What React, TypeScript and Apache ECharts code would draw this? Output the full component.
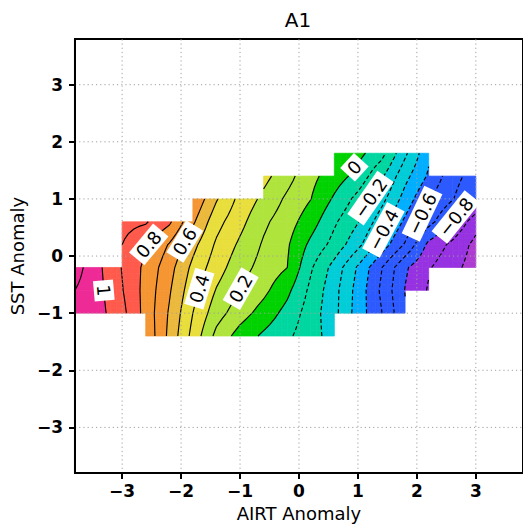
import React, { useEffect, useRef } from "react";
import * as echarts from "echarts";

// ---------------- data ----------------
const AIRT_NODES = [-3.8, -3.4, -3.0, -2.6, -2.2, -1.8, -1.4, -1.0, -0.6, -0.2, 0.2, 0.6, 1.0, 1.4, 1.8, 2.2, 2.6, 3.0];
const SST_NODES = [-1.4, -1.0, -0.6, -0.2, 0.2, 0.6, 1.0, 1.4, 1.8];

const N = null;
// field value at each AIRT node, one array per SST node row
const SST_M14 = [N, N, N, 0.78, 0.575, 0.367, 0.171, 0.058, -0.018, -0.081, -0.16, -0.245, N, N, N, N, N, N];
const SST_M10 = [1.08, 1.033, 0.93, 0.764, 0.589, 0.4, 0.242, 0.143, 0.059, -0.035, -0.149, -0.271, -0.445, -0.596, -0.789, N, N, N];
const SST_M06 = [1.1, 1.027, 0.906, 0.766, 0.612, 0.436, 0.293, 0.199, 0.125, 0.025, -0.124, -0.267, -0.438, -0.618, -0.804, -0.91, N, N];
const SST_M02 = [1.144, 1.019, 0.895, 0.775, 0.638, 0.475, 0.344, 0.24, 0.163, 0.101, -0.087, -0.238, -0.413, -0.595, -0.785, -0.89, -0.969, -1.045];
const SST_P02 = [N, N, 0.9, 0.815, 0.692, 0.531, 0.384, 0.282, 0.188, 0.113, -0.024, -0.135, -0.271, -0.442, -0.611, -0.827, -0.924, -1.03];
const SST_P06 = [N, N, 0.93, 0.91, 0.819, 0.617, 0.435, 0.33, 0.22, 0.144, 0.045, -0.085, -0.194, -0.356, -0.52, -0.665, -0.8, -0.958];
const SST_P10 = [N, N, N, N, N, 0.691, 0.509, 0.371, 0.275, 0.181, 0.102, -0.015, -0.132, -0.266, -0.44, -0.6, -0.693, -0.8];
const SST_P14 = [N, N, N, N, N, N, N, N, 0.332, 0.237, 0.128, 0.05, -0.034, -0.182, -0.369, -0.514, -0.66, -0.75];
const SST_P18 = [N, N, N, N, N, N, N, N, N, N, N, 0.06, 0.03, -0.064, -0.28, -0.48, N, N];
const FIELD_ROWS: (number | null)[][] = [SST_M14, SST_M10, SST_M06, SST_M02, SST_P02, SST_P06, SST_P10, SST_P14, SST_P18];

const LINE_LEVELS = [-1.0, -0.9, -0.8, -0.7, -0.6, -0.5, -0.4, -0.3, -0.2, -0.1, 0.0, 0.1, 0.2, 0.3, 0.4, 0.5, 0.6, 0.7, 0.8, 0.9, 1.0, 1.1];
const FILL_BOUNDS = [-1.0, -0.8, -0.5, -0.4, -0.2, 0.0, 0.1, 0.3, 0.5, 0.6, 0.8, 1.0];
const FILL_COLORS = ["#AF3CD2", "#9632E1", "#2D5AFF", "#00AFFF", "#00CDD7", "#00D7A0", "#00D200", "#AFE43C", "#E8DE3C", "#EBB93C", "#F59632", "#FF5A4B", "#EE2A96"];

const LABEL_LEVELS = [1.0, 0.8, 0.6, 0.4, 0.2, 0.0, -0.2, -0.4, -0.6, -0.8];
const LABEL_AIRT = [-3.28, -2.44, -1.93, -1.71, -1.0, 1.05, 1.24, 1.39, 2.2, 2.83];
const LABEL_SST = [-0.6, 0.165, 0.25, -0.565, -0.565, 1.49, 1.0, 0.48, 0.69, 0.565];

const TICKS = [-3, -2, -1, 0, 1, 2, 3];
const AXIS_MIN = -3.8;
const AXIS_MAX = 3.8;

// ---------------- field helpers ----------------
const SUB = 4;
const NX = AIRT_NODES.length;
const NY = SST_NODES.length;
type Pt = { x: number; y: number; v: number };

function nodeVal(i: number, j: number): number | null {
  const r = FIELD_ROWS[j];
  if (!r) return null;
  const v = r[i];
  return v == null ? null : v;
}
function cellOk(i: number, j: number): boolean {
  if (i < 0 || j < 0 || i >= NX - 1 || j >= NY - 1) return false;
  return nodeVal(i, j) != null && nodeVal(i + 1, j) != null && nodeVal(i, j + 1) != null && nodeVal(i + 1, j + 1) != null;
}

const RX = (NX - 1) * SUB + 1;
const RY = (NY - 1) * SUB + 1;
const RV: number[] = new Array(RX * RY).fill(NaN);
const RXC: number[] = [];
const RYC: number[] = [];
for (let ia = 0; ia < RX; ia++) {
  const i = Math.min(Math.floor(ia / SUB), NX - 2);
  const a = ia - i * SUB;
  RXC[ia] = AIRT_NODES[i] + ((AIRT_NODES[i + 1] - AIRT_NODES[i]) * a) / SUB;
}
for (let jb = 0; jb < RY; jb++) {
  const j = Math.min(Math.floor(jb / SUB), NY - 2);
  const b = jb - j * SUB;
  RYC[jb] = SST_NODES[j] + ((SST_NODES[j + 1] - SST_NODES[j]) * b) / SUB;
}
const CELLS: number[][] = [];
for (let j = 0; j < NY - 1; j++) {
  for (let i = 0; i < NX - 1; i++) {
    if (!cellOk(i, j)) continue;
    CELLS.push([(AIRT_NODES[i] + AIRT_NODES[i + 1]) / 2, (SST_NODES[j] + SST_NODES[j + 1]) / 2, i, j]);
    const v00 = nodeVal(i, j) as number, v10 = nodeVal(i + 1, j) as number;
    const v01 = nodeVal(i, j + 1) as number, v11 = nodeVal(i + 1, j + 1) as number;
    for (let b = 0; b <= SUB; b++) {
      for (let a = 0; a <= SUB; a++) {
        const u = a / SUB, w = b / SUB;
        RV[(j * SUB + b) * RX + i * SUB + a] = (1 - u) * (1 - w) * v00 + u * (1 - w) * v10 + (1 - u) * w * v01 + u * w * v11;
      }
    }
  }
}
const rcellOk = (ia: number, jb: number) => cellOk(Math.floor(ia / SUB), Math.floor(jb / SUB));
const rp = (ia: number, jb: number): Pt => ({ x: RXC[ia], y: RYC[jb], v: RV[jb * RX + ia] });

function evalField(x: number, y: number): [number, number, number] | null {
  let i = -1, j = -1;
  for (let k = 0; k < NX - 1; k++) if (x >= AIRT_NODES[k] && x <= AIRT_NODES[k + 1]) { i = k; break; }
  for (let k = 0; k < NY - 1; k++) if (y >= SST_NODES[k] && y <= SST_NODES[k + 1]) { j = k; break; }
  if (i < 0 || j < 0 || !cellOk(i, j)) return null;
  const dx = AIRT_NODES[i + 1] - AIRT_NODES[i], dy = SST_NODES[j + 1] - SST_NODES[j];
  const u = (x - AIRT_NODES[i]) / dx, w = (y - SST_NODES[j]) / dy;
  const v00 = nodeVal(i, j) as number, v10 = nodeVal(i + 1, j) as number;
  const v01 = nodeVal(i, j + 1) as number, v11 = nodeVal(i + 1, j + 1) as number;
  const v = (1 - u) * (1 - w) * v00 + u * (1 - w) * v10 + (1 - u) * w * v01 + u * w * v11;
  const fx = ((1 - w) * (v10 - v00) + w * (v11 - v01)) / dx;
  const fy = ((1 - u) * (v01 - v00) + u * (v11 - v10)) / dy;
  return [v, fx, fy];
}

function bandIndex(v: number): number {
  let k = 0;
  while (k < FILL_BOUNDS.length && v >= FILL_BOUNDS[k]) k++;
  return k;
}

function clip(poly: Pt[], L: number, keepAbove: boolean): Pt[] {
  const out: Pt[] = [];
  const n = poly.length;
  for (let k = 0; k < n; k++) {
    const a = poly[k], b = poly[(k + 1) % n];
    const ina = keepAbove ? a.v >= L : a.v <= L;
    const inb = keepAbove ? b.v >= L : b.v <= L;
    if (ina) out.push(a);
    if (ina !== inb) {
      const t = (L - a.v) / (b.v - a.v);
      out.push({ x: a.x + t * (b.x - a.x), y: a.y + t * (b.y - a.y), v: L });
    }
  }
  return out;
}

function fmtLevel(v: number): string {
  const s = String(Math.round(v * 10) / 10);
  return s.replace("-", "\u2212");
}
function textWidth(s: string, size: number): number {
  let w = 0;
  for (const ch of s) w += ch === "." ? 0.318 : ch === "\u2212" ? 0.838 : 0.636;
  return w * size;
}

// ---------------- renderers ----------------
function renderFill(_params: any, api: any) {
  const i = api.value(2), j = api.value(3);
  const children: any[] = [];
  const toPx = (p: Pt) => api.coord([p.x, p.y]);
  const pushPoly = (poly: Pt[], k: number) => {
    if (poly.length < 3) return;
    const c = FILL_COLORS[k];
    children.push({ type: "polygon", shape: { points: poly.map(toPx) }, style: { fill: c, stroke: c, lineWidth: 0.7 } });
  };
  const cv = [nodeVal(i, j), nodeVal(i + 1, j), nodeVal(i + 1, j + 1), nodeVal(i, j + 1)] as number[];
  const k0 = bandIndex(Math.min(...cv)), k1 = bandIndex(Math.max(...cv));
  if (k0 === k1) {
    pushPoly([rp(i * SUB, j * SUB), rp((i + 1) * SUB, j * SUB), rp((i + 1) * SUB, (j + 1) * SUB), rp(i * SUB, (j + 1) * SUB)], k0);
  } else {
    for (let b = 0; b < SUB; b++) {
      for (let a = 0; a < SUB; a++) {
        const ia = i * SUB + a, jb = j * SUB + b;
        const poly = [rp(ia, jb), rp(ia + 1, jb), rp(ia + 1, jb + 1), rp(ia, jb + 1)];
        const vs = poly.map((p) => p.v);
        const s0 = bandIndex(Math.min(...vs)), s1 = bandIndex(Math.max(...vs));
        for (let k = s0; k <= s1; k++) {
          let p = poly;
          if (k > 0) p = clip(p, FILL_BOUNDS[k - 1], true);
          if (k < FILL_BOUNDS.length) p = clip(p, FILL_BOUNDS[k], false);
          pushPoly(p, k);
        }
      }
    }
  }
  return { type: "group", children };
}

function renderLines(_params: any, api: any) {
  const L = api.value(2);
  const segs: [string, string][] = [];
  const pts = new Map<string, [number, number]>();
  const edgePt = (key: string, p: Pt, q: Pt) => {
    if (!pts.has(key)) {
      const t = (L - p.v) / (q.v - p.v);
      pts.set(key, [p.x + t * (q.x - p.x), p.y + t * (q.y - p.y)]);
    }
    return key;
  };
  for (let jb = 0; jb < RY - 1; jb++) {
    for (let ia = 0; ia < RX - 1; ia++) {
      if (!rcellOk(ia, jb)) continue;
      const p0 = rp(ia, jb), p1 = rp(ia + 1, jb), p2 = rp(ia + 1, jb + 1), p3 = rp(ia, jb + 1);
      const b0 = p0.v >= L, b1 = p1.v >= L, b2 = p2.v >= L, b3 = p3.v >= L;
      const e: (string | null)[] = [
        b0 !== b1 ? edgePt(`h${ia}_${jb}`, p0, p1) : null,
        b1 !== b2 ? edgePt(`v${ia + 1}_${jb}`, p1, p2) : null,
        b3 !== b2 ? edgePt(`h${ia}_${jb + 1}`, p3, p2) : null,
        b0 !== b3 ? edgePt(`v${ia}_${jb}`, p0, p3) : null,
      ];
      const cross = e.filter((x) => x != null) as string[];
      if (cross.length === 2) segs.push([cross[0], cross[1]]);
      else if (cross.length === 4) {
        const c = (p0.v + p1.v + p2.v + p3.v) / 4 >= L;
        if (c === b0) {
          segs.push([e[0] as string, e[1] as string]);
          segs.push([e[2] as string, e[3] as string]);
        } else {
          segs.push([e[3] as string, e[0] as string]);
          segs.push([e[1] as string, e[2] as string]);
        }
      }
    }
  }
  const adj = new Map<string, number[]>();
  segs.forEach((s, idx) => {
    for (const k of s) {
      if (!adj.has(k)) adj.set(k, []);
      (adj.get(k) as number[]).push(idx);
    }
  });
  const used = new Array(segs.length).fill(false);
  const walk = (startKey: string, segIdx: number) => {
    const chain = [startKey];
    let key = startKey;
    let si = segIdx;
    while (si >= 0 && !used[si]) {
      used[si] = true;
      const s = segs[si];
      const next = s[0] === key ? s[1] : s[0];
      chain.push(next);
      key = next;
      const cand = (adj.get(key) || []).find((x) => !used[x]);
      si = cand === undefined ? -1 : cand;
    }
    return chain;
  };
  const chains: string[][] = [];
  adj.forEach((list, k) => {
    if (list.length === 1 && !used[list[0]]) chains.push(walk(k, list[0]));
  });
  for (let s = 0; s < segs.length; s++) if (!used[s]) chains.push(walk(segs[s][0], s));
  const children = chains.map((ch) => ({
    type: "polyline",
    shape: { points: ch.map((k) => api.coord(pts.get(k))) },
    style: { stroke: "#000", lineWidth: 1.15, fill: "none", lineDash: L < -1e-9 ? [4, 2.5] : null },
  }));
  return { type: "group", children };
}

function renderGridLines(_params: any, api: any) {
  const t = api.value(0);
  const a = api.coord([t, AXIS_MIN]), b = api.coord([t, AXIS_MAX]);
  const c = api.coord([AXIS_MIN, t]), d = api.coord([AXIS_MAX, t]);
  const style = { stroke: "#A0A0A0", lineWidth: 1, lineDash: [1.2, 3] };
  return {
    type: "group",
    children: [
      { type: "line", shape: { x1: a[0], y1: a[1], x2: b[0], y2: b[1] }, style },
      { type: "line", shape: { x1: c[0], y1: c[1], x2: d[0], y2: d[1] }, style },
    ],
  };
}

function renderLabel(_params: any, api: any) {
  const idx = api.value(2);
  const L = LABEL_LEVELS[idx];
  let x = LABEL_AIRT[idx], y = LABEL_SST[idx];
  for (let it = 0; it < 8; it++) {
    const f = evalField(x, y);
    if (!f) break;
    const [v, fx, fy] = f;
    const g2 = fx * fx + fy * fy;
    if (g2 < 1e-9) break;
    let dx = (-(v - L) * fx) / g2, dy = (-(v - L) * fy) / g2;
    const m = Math.hypot(dx, dy);
    if (m > 0.05) { dx *= 0.05 / m; dy *= 0.05 / m; }
    x += dx; y += dy;
  }
  const f = evalField(x, y) || [L, 1, 0];
  const p0 = api.coord([x, y]);
  const px = api.coord([x + 1, y]);
  const py = api.coord([x, y + 1]);
  const sx = px[0] - p0[0], sy = py[1] - p0[1];
  const gpx = f[1] / sx, gpy = f[2] / sy;
  const dxp = -gpy, dyp = gpx;
  let ang = Math.atan2(-dyp, dxp);
  if (ang > Math.PI / 2) ang -= Math.PI;
  if (ang < -Math.PI / 2) ang += Math.PI;
  const text = fmtLevel(L);
  const fs = 18;
  const w = textWidth(text, fs) + 9, h = 20;
  return {
    type: "group",
    x: p0[0],
    y: p0[1],
    rotation: ang,
    children: [
      { type: "rect", shape: { x: -w / 2, y: -h / 2, width: w, height: h }, style: { fill: "#fff" } },
      {
        type: "text",
        style: { text, x: 0, y: 0, align: "center", verticalAlign: "middle", textAlign: "center", textVerticalAlign: "middle", fontSize: fs, fontFamily: "DejaVu Sans", fill: "#000" },
      },
    ],
  };
}

const tickFmt = (v: number) => String(v).replace("-", "\u2212");

export default function App() {
  const ref = useRef<HTMLDivElement>(null);
  useEffect(() => {
    if (!ref.current) return;
    const chart = echarts.init(ref.current, null, { renderer: "svg" });
    const axisCommon = {
      type: "value" as const,
      min: AXIS_MIN,
      max: AXIS_MAX,
      z: 6,
      axisLine: { show: true, onZero: false, lineStyle: { color: "#000", width: 2 } },
      axisTick: { show: true, length: 6, inside: false, customValues: TICKS, lineStyle: { color: "#000", width: 2 } },
      splitLine: { show: false },
      nameTextStyle: { color: "#000", fontSize: 18, fontFamily: "DejaVu Sans" },
    };
    chart.setOption({
      animation: false,
      grid: { left: 74, top: 39, width: 450.7, height: 437, show: true, borderColor: "#000", borderWidth: 2, backgroundColor: "transparent" },
      graphic: [
        { type: "text", x: 298, y: 20, style: { text: "A1", textAlign: "center", textVerticalAlign: "middle", fontSize: 20, fontFamily: "DejaVu Sans", fill: "#000" } },
      ],
      xAxis: {
        ...axisCommon,
        position: "bottom",
        name: "AIRT Anomaly",
        nameLocation: "middle",
        nameGap: 25,
        axisLabel: { customValues: TICKS, formatter: tickFmt, color: "#000", fontSize: 17, fontWeight: "bold", fontFamily: "DejaVu Sans", margin: 9 },
      },
      yAxis: {
        ...axisCommon,
        position: "left",
        name: "SST Anomaly",
        nameLocation: "middle",
        nameGap: 45,
        nameRotate: 90,
        axisLabel: { customValues: TICKS, formatter: tickFmt, color: "#000", fontSize: 17, fontWeight: "bold", fontFamily: "DejaVu Sans", margin: 12 },
      },
      series: [
        { type: "custom", name: "fill", z: 2, clip: true, renderItem: renderFill, data: CELLS, silent: true },
        { type: "custom", name: "lines", z: 3, clip: true, renderItem: renderLines, data: LINE_LEVELS.map((l) => [0, 0, l]), silent: true },
        { type: "custom", name: "grid", z: 4, clip: true, renderItem: renderGridLines, data: TICKS.map((t) => [t, t]), silent: true },
        { type: "custom", name: "labels", z: 5, clip: false, renderItem: renderLabel, data: LABEL_LEVELS.map((_, k) => [LABEL_AIRT[k], LABEL_SST[k], k]), silent: true },
      ],
    });
    return () => chart.dispose();
  }, []);
  return <div ref={ref} style={{ position: "absolute", left: 0, top: 0, width: 523, height: 527 }} />;
}
